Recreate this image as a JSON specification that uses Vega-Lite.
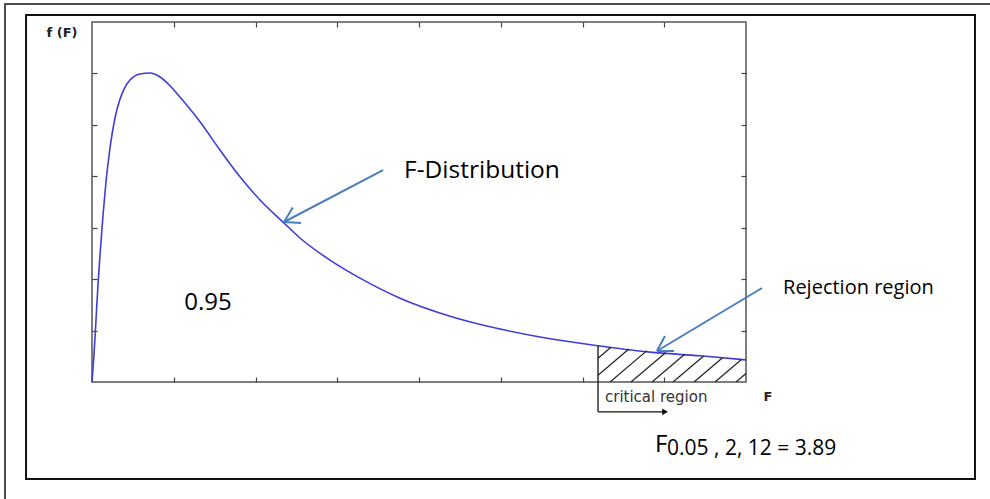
{
  "$schema": "https://vega.github.io/schema/vega-lite/v6.json",
  "width": 654,
  "height": 360,
  "autosize": {"type": "none"},
  "padding": {"left": 92, "top": 22, "right": 244, "bottom": 117},
  "background": "white",
  "config": {"view": {"stroke": "#555555", "strokeWidth": 1.5}},
  "datasets": {
    "curve": [
      {"F": 0.0, "f": 0.0}, {"F": 0.024, "f": 0.525}, {"F": 0.049, "f": 1.206}, {"F": 0.073, "f": 1.886},
      {"F": 0.098, "f": 2.469}, {"F": 0.135, "f": 3.247}, {"F": 0.171, "f": 3.889}, {"F": 0.22, "f": 4.55},
      {"F": 0.281, "f": 5.134}, {"F": 0.343, "f": 5.503}, {"F": 0.404, "f": 5.736}, {"F": 0.465, "f": 5.872},
      {"F": 0.587, "f": 5.989}, {"F": 0.709, "f": 6.008}, {"F": 0.832, "f": 5.93}, {"F": 0.954, "f": 5.76},
      {"F": 1.076, "f": 5.54}, {"F": 1.321, "f": 5.06}, {"F": 1.566, "f": 4.51}, {"F": 1.81, "f": 3.99},
      {"F": 2.055, "f": 3.54}, {"F": 2.336, "f": 3.11}, {"F": 2.544, "f": 2.8}, {"F": 2.911, "f": 2.37},
      {"F": 3.278, "f": 2.02}, {"F": 3.768, "f": 1.63}, {"F": 4.379, "f": 1.28}, {"F": 4.991, "f": 1.03},
      {"F": 5.602, "f": 0.84}, {"F": 6.214, "f": 0.7}, {"F": 6.826, "f": 0.58}, {"F": 7.437, "f": 0.51},
      {"F": 8.0, "f": 0.43}
    ],
    "hatch": [
      {"x": 6.19, "y": 0.463, "x2": 6.348, "y2": 0.676},
      {"x": 6.19, "y": 0.132, "x2": 6.567, "y2": 0.643},
      {"x": 6.337, "y": 0, "x2": 6.788, "y2": 0.61},
      {"x": 6.593, "y": 0, "x2": 7.019, "y2": 0.575},
      {"x": 6.85, "y": 0, "x2": 7.25, "y2": 0.541},
      {"x": 7.107, "y": 0, "x2": 7.482, "y2": 0.506},
      {"x": 7.364, "y": 0, "x2": 7.713, "y2": 0.471},
      {"x": 7.621, "y": 0, "x2": 7.944, "y2": 0.436},
      {"x": 7.878, "y": 0, "x2": 8.0, "y2": 0.165}
    ],
    "crit": [
      {"x": 6.19, "y": 0.7, "x2": 6.19, "y2": -0.58},
      {"x": 6.19, "y": -0.58, "x2": 7.0, "y2": -0.58}
    ],
    "critTip": [{"x": 7.01, "y": -0.58}],
    "arrows": [
      {"name": "dist", "x": 3.56, "y": 4.122, "x2": 2.349, "y2": 3.111},
      {"name": "rej", "x": 8.196, "y": 1.828, "x2": 6.911, "y2": 0.603}
    ],
    "frames": [
      {"name": "outer", "x": -1.064, "x2": 11.05, "y": 7.35, "y2": -2.39},
      {"name": "inner", "x": -0.807, "x2": 10.801, "y": 7.136, "y2": -1.886}
    ],
    "labels": [
      {"id": "fF", "label": "f (F)", "x": -0.367, "y": 6.786},
      {"id": "Fax", "label": "F", "x": 8.269, "y": -0.292},
      {"id": "crit", "label": "critical region", "x": 6.275, "y": -0.292},
      {"id": "p95", "label": "0.95", "x": 1.419, "y": 1.536},
      {"id": "dist", "label": "F-Distribution", "x": 3.817, "y": 4.103},
      {"id": "rej", "label": "Rejection region", "x": 8.453, "y": 1.828},
      {"id": "Fbig", "label": "F", "x": 6.887, "y": -1.361},
      {"id": "sub", "label": "0.05 , 2, 12 = 3.89", "x": 7.034, "y": -1.419}
    ]
  },
  "resolve": {"axis": {"x": "independent", "y": "independent"}},
  "layer": [
    {
      "data": {"name": "frames"},
      "transform": [{"filter": "datum.name === 'outer'"}],
      "mark": {"type": "rect", "fill": null, "stroke": "#4d4d4d", "strokeWidth": 2, "clip": false},
      "encoding": {
        "x": {"field": "x", "type": "quantitative", "scale": {"domain": [0, 8], "nice": false, "zero": false}, "axis": null},
        "x2": {"field": "x2"},
        "y": {"field": "y", "type": "quantitative", "scale": {"domain": [0, 7], "nice": false, "zero": false}, "axis": null},
        "y2": {"field": "y2"}
      }
    },
    {
      "data": {"name": "frames"},
      "transform": [{"filter": "datum.name === 'inner'"}],
      "mark": {"type": "rect", "fill": null, "stroke": "#111111", "strokeWidth": 2, "clip": false},
      "encoding": {
        "x": {"field": "x", "type": "quantitative", "axis": null},
        "x2": {"field": "x2"},
        "y": {"field": "y", "type": "quantitative", "axis": null},
        "y2": {"field": "y2"}
      }
    },
    {
      "data": {"name": "curve"},
      "mark": {"type": "line", "stroke": "#3d3ddc", "strokeWidth": 1.6, "interpolate": "monotone", "clip": false},
      "encoding": {
        "x": {"field": "F", "type": "quantitative", "axis": {"orient": "bottom", "values": [1, 2, 3, 4, 5, 6, 7], "labels": false, "title": null, "domain": false, "ticks": true, "tickSize": -5, "tickColor": "#444444", "tickWidth": 1.2, "grid": false}},
        "y": {"field": "f", "type": "quantitative", "axis": {"orient": "left", "values": [1, 2, 3, 4, 5, 6], "labels": false, "title": null, "domain": false, "ticks": true, "tickSize": -5, "tickColor": "#444444", "tickWidth": 1.2, "grid": false}}
      }
    },
    {
      "data": {"name": "hatch"},
      "mark": {"type": "rule", "stroke": "#222222", "strokeWidth": 1.2, "clip": false},
      "encoding": {
        "x": {"field": "x", "type": "quantitative", "axis": {"orient": "top", "values": [1, 2, 3, 4, 5, 6, 7], "labels": false, "title": null, "domain": false, "ticks": true, "tickSize": -5, "tickColor": "#444444", "tickWidth": 1.2, "grid": false}},
        "x2": {"field": "x2"},
        "y": {"field": "y", "type": "quantitative", "axis": {"orient": "right", "values": [1, 2, 3, 4, 5, 6], "labels": false, "title": null, "domain": false, "ticks": true, "tickSize": -5, "tickColor": "#444444", "tickWidth": 1.2, "grid": false}},
        "y2": {"field": "y2"}
      }
    },
    {
      "data": {"name": "crit"},
      "mark": {"type": "rule", "stroke": "#111111", "strokeWidth": 1.3, "clip": false},
      "encoding": {
        "x": {"field": "x", "type": "quantitative", "axis": null},
        "x2": {"field": "x2"},
        "y": {"field": "y", "type": "quantitative", "axis": null},
        "y2": {"field": "y2"}
      }
    },
    {
      "data": {"name": "critTip"},
      "mark": {"type": "point", "shape": "triangle-right", "filled": true, "fill": "#111111", "stroke": null, "size": 45, "opacity": 1, "clip": false},
      "encoding": {
        "x": {"field": "x", "type": "quantitative", "axis": null},
        "y": {"field": "y", "type": "quantitative", "axis": null}
      }
    },
    {
      "data": {"name": "arrows"},
      "mark": {"type": "rule", "stroke": "#4a7ebb", "strokeWidth": 2, "clip": false},
      "encoding": {
        "x": {"field": "x", "type": "quantitative", "axis": null},
        "x2": {"field": "x2"},
        "y": {"field": "y", "type": "quantitative", "axis": null},
        "y2": {"field": "y2"}
      }
    },
    {
      "data": {"name": "arrows"},
      "transform": [{"filter": "datum.name === 'dist'"}],
      "mark": {"type": "point", "shape": "M0,0L-1,-0.6M0,0L-1,0.6", "filled": false, "stroke": "#4a7ebb", "strokeWidth": 2, "size": 850, "angle": 152, "opacity": 1, "clip": false},
      "encoding": {
        "x": {"field": "x2", "type": "quantitative", "axis": null},
        "y": {"field": "y2", "type": "quantitative", "axis": null}
      }
    },
    {
      "data": {"name": "arrows"},
      "transform": [{"filter": "datum.name === 'rej'"}],
      "mark": {"type": "point", "shape": "M0,0L-1,-0.6M0,0L-1,0.6", "filled": false, "stroke": "#4a7ebb", "strokeWidth": 2, "size": 850, "angle": 149, "opacity": 1, "clip": false},
      "encoding": {
        "x": {"field": "x2", "type": "quantitative", "axis": null},
        "y": {"field": "y2", "type": "quantitative", "axis": null}
      }
    },
    {
      "data": {"name": "labels"},
      "transform": [{"filter": "datum.id === 'fF'"}],
      "mark": {"type": "text", "font": "DejaVu Sans", "fontWeight": "bold", "fontSize": 13, "fill": "#222222", "align": "center", "baseline": "middle", "clip": false},
      "encoding": {
        "x": {"field": "x", "type": "quantitative", "axis": null},
        "y": {"field": "y", "type": "quantitative", "axis": null},
        "text": {"field": "label"}
      }
    },
    {
      "data": {"name": "labels"},
      "transform": [{"filter": "datum.id === 'Fax'"}],
      "mark": {"type": "text", "font": "DejaVu Sans", "fontWeight": "bold", "fontSize": 13, "fill": "#222222", "align": "center", "baseline": "middle", "clip": false},
      "encoding": {
        "x": {"field": "x", "type": "quantitative", "axis": null},
        "y": {"field": "y", "type": "quantitative", "axis": null},
        "text": {"field": "label"}
      }
    },
    {
      "data": {"name": "labels"},
      "transform": [{"filter": "datum.id === 'crit'"}],
      "mark": {"type": "text", "font": "DejaVu Sans", "fontSize": 15, "fill": "#333333", "align": "left", "baseline": "middle", "clip": false},
      "encoding": {
        "x": {"field": "x", "type": "quantitative", "axis": null},
        "y": {"field": "y", "type": "quantitative", "axis": null},
        "text": {"field": "label"}
      }
    },
    {
      "data": {"name": "labels"},
      "transform": [{"filter": "datum.id === 'p95'"}],
      "mark": {"type": "text", "font": "Open Sans", "fontSize": 24, "fill": "#000000", "align": "center", "baseline": "middle", "clip": false},
      "encoding": {
        "x": {"field": "x", "type": "quantitative", "axis": null},
        "y": {"field": "y", "type": "quantitative", "axis": null},
        "text": {"field": "label"}
      }
    },
    {
      "data": {"name": "labels"},
      "transform": [{"filter": "datum.id === 'dist'"}],
      "mark": {"type": "text", "font": "Open Sans", "fontSize": 24.5, "fill": "#000000", "align": "left", "baseline": "middle", "clip": false},
      "encoding": {
        "x": {"field": "x", "type": "quantitative", "axis": null},
        "y": {"field": "y", "type": "quantitative", "axis": null},
        "text": {"field": "label"}
      }
    },
    {
      "data": {"name": "labels"},
      "transform": [{"filter": "datum.id === 'rej'"}],
      "mark": {"type": "text", "font": "Open Sans", "fontSize": 20, "fill": "#000000", "align": "left", "baseline": "middle", "clip": false},
      "encoding": {
        "x": {"field": "x", "type": "quantitative", "axis": null},
        "y": {"field": "y", "type": "quantitative", "axis": null},
        "text": {"field": "label"}
      }
    },
    {
      "data": {"name": "labels"},
      "transform": [{"filter": "datum.id === 'Fbig'"}],
      "mark": {"type": "text", "font": "Open Sans", "fontSize": 24, "fill": "#000000", "align": "left", "baseline": "alphabetic", "clip": false},
      "encoding": {
        "x": {"field": "x", "type": "quantitative", "axis": null},
        "y": {"field": "y", "type": "quantitative", "axis": null},
        "text": {"field": "label"}
      }
    },
    {
      "data": {"name": "labels"},
      "transform": [{"filter": "datum.id === 'sub'"}],
      "mark": {"type": "text", "font": "Open Sans", "fontSize": 21, "fill": "#000000", "align": "left", "baseline": "alphabetic", "clip": false},
      "encoding": {
        "x": {"field": "x", "type": "quantitative", "axis": null},
        "y": {"field": "y", "type": "quantitative", "axis": null},
        "text": {"field": "label"}
      }
    }
  ]
}
